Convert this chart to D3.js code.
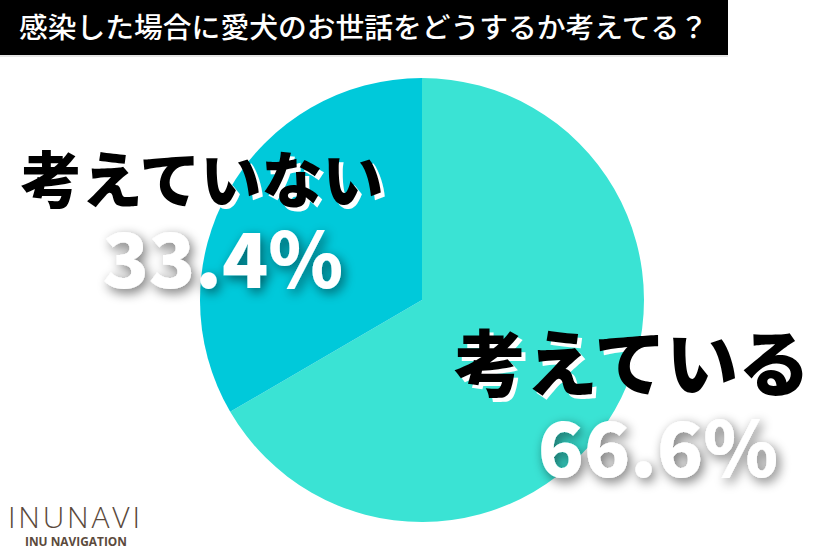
<!DOCTYPE html>
<html><head><meta charset="utf-8">
<script src="https://cdn.jsdelivr.net/npm/d3@7"></script>
<style>body{margin:0;background:#fff;}svg{display:block;}</style>
</head><body>
<script>
const title = "感染した場合に愛犬のお世話をどうするか考えてる？";
const categories = ["考えている", "考えていない"];
const values = [66.6, 33.4];
const colors = ["#3ae3d4", "#00c9da"];
const valueLabels = ["66.6%", "33.4%"];

const W = 837, H = 558;
const svg = d3.select("body").append("svg").attr("width", W).attr("height", H);
const defs = svg.append("defs");
const f = defs.append("filter").attr("id","sh").attr("x","-20%").attr("y","-30%").attr("width","150%").attr("height","170%");
f.append("feGaussianBlur").attr("in","SourceAlpha").attr("stdDeviation",6).attr("result","b");
f.append("feOffset").attr("in","b").attr("dx",3).attr("dy",4).attr("result","o");
f.append("feComponentTransfer").attr("in","o").attr("result","o2").append("feFuncA").attr("type","linear").attr("slope",0.55);
const m = f.append("feMerge"); m.append("feMergeNode").attr("in","o2"); m.append("feMergeNode").attr("in","SourceGraphic");

// title bar
svg.append("rect").attr("x",0).attr("y",0).attr("width",728).attr("height",55).attr("fill","#000");
svg.append("rect").attr("x",0).attr("y",55).attr("width",728).attr("height",2).attr("fill","#e6e6e6");
svg.append("text").attr("x",19).attr("y",38).attr("fill","#fff")
  .attr("font-family","'Noto Sans CJK JP'").attr("font-weight",500).attr("font-size",28)
  .attr("textLength",689).attr("lengthAdjust","spacingAndGlyphs")
  .text(title);

// pie
const cx = 422, cy = 300, r = 222;
const pie = d3.pie().sort(null).value(d => d)(values);
const arc = d3.arc().innerRadius(0).outerRadius(r);
svg.append("g").attr("transform",`translate(${cx},${cy})`)
  .selectAll("path").data(pie).join("path")
  .attr("d", arc).attr("fill", (d,i) => colors[i]);

// labels
const labelPos = [
  {cx: 632, ny: 390, fs: 72, vy: 477, vx: 658},
  {cx: 202, ny: 203, fs: 61, vy: 288, vx: 223}
];
const font = "'Noto Sans CJK JP'";
categories.forEach((c,i) => {
  const p = labelPos[i];
  svg.append("text").attr("x",p.cx+4).attr("y",p.ny+4).attr("text-anchor","middle")
    .attr("font-family",font).attr("font-weight",900).attr("font-size",p.fs)
    .attr("fill","#fff").text(c);
  svg.append("text").attr("x",p.cx).attr("y",p.ny).attr("text-anchor","middle")
    .attr("font-family",font).attr("font-weight",900).attr("font-size",p.fs)
    .attr("fill","#000").text(c);
  svg.append("text").attr("x",p.vx).attr("y",p.vy).attr("text-anchor","middle")
    .attr("font-family",font).attr("font-weight",900).attr("font-size",76)
    .attr("fill","#fff").attr("filter","url(#sh)").text(valueLabels[i]);
});

// logo
svg.append("text").attr("x",8).attr("y",528).attr("fill","#5b4a3c")
  .attr("font-family","'Open Sans'").attr("font-weight",300).attr("font-size",30)
  .attr("textLength",132).attr("lengthAdjust","spacing")
  .text("INUNAVI");
svg.append("text").attr("x",25).attr("y",546).attr("fill","#5b4a3c")
  .attr("font-family","'Open Sans'").attr("font-weight",700).attr("font-size",12.5)
  .attr("textLength",102).attr("lengthAdjust","spacingAndGlyphs")
  .text("INU NAVIGATION");
</script>
</body></html>
